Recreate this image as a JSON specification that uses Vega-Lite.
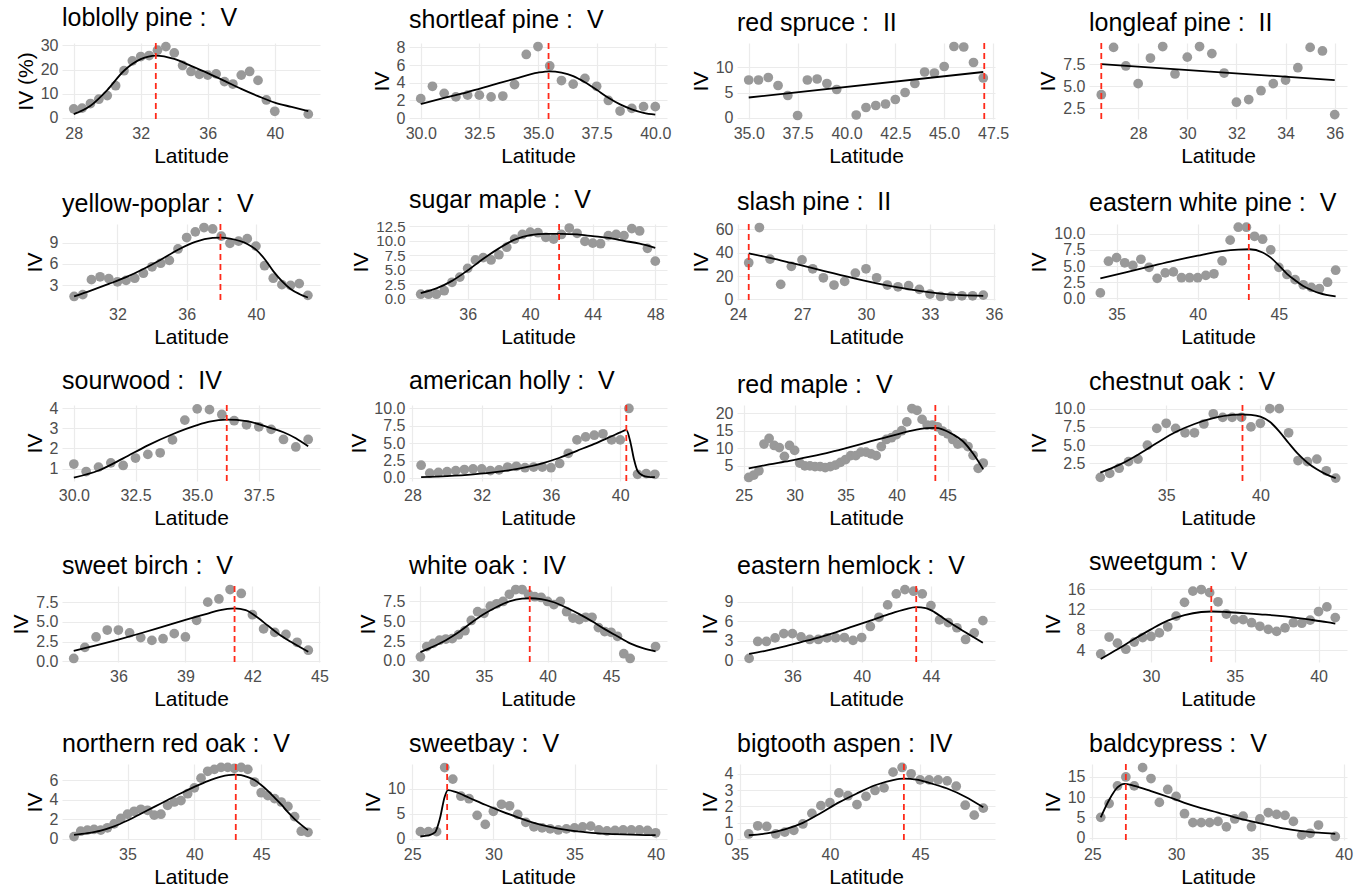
{
"$schema": "https://vega.github.io/schema/vega-lite/v6.json",
"background": "white",
"padding": {"left": 10, "top": 6, "right": 2, "bottom": 2},
"columns": 4,
"spacing": {"row": 22, "column": 19},
"datasets": {
"pts": [
{"species":"loblolly pine","lat":28,"iv":3.7},{"species":"loblolly pine","lat":28.5,"iv":4},{"species":"loblolly pine","lat":29,"iv":5.9},{"species":"loblolly pine","lat":29.5,"iv":7.7},{"species":"loblolly pine","lat":30,"iv":9.2},{"species":"loblolly pine","lat":30.5,"iv":13.3},{"species":"loblolly pine","lat":31,"iv":19.5},{"species":"loblolly pine","lat":31.5,"iv":23.6},{"species":"loblolly pine","lat":32,"iv":25.4},{"species":"loblolly pine","lat":32.5,"iv":25.8},{"species":"loblolly pine","lat":33,"iv":28},{"species":"loblolly pine","lat":33.5,"iv":29.5},{"species":"loblolly pine","lat":34,"iv":26.9},{"species":"loblolly pine","lat":34.5,"iv":21.7},{"species":"loblolly pine","lat":35,"iv":19.2},{"species":"loblolly pine","lat":35.5,"iv":18},{"species":"loblolly pine","lat":36,"iv":17.7},{"species":"loblolly pine","lat":36.5,"iv":18.2},{"species":"loblolly pine","lat":37,"iv":15},{"species":"loblolly pine","lat":37.5,"iv":14},{"species":"loblolly pine","lat":38,"iv":17.7},{"species":"loblolly pine","lat":38.5,"iv":19.2},{"species":"loblolly pine","lat":39,"iv":15.5},{"species":"loblolly pine","lat":39.5,"iv":7.4},{"species":"loblolly pine","lat":40,"iv":2.7},{"species":"loblolly pine","lat":42,"iv":1.5},
{"species":"shortleaf pine","lat":30,"iv":2.2},{"species":"shortleaf pine","lat":30.5,"iv":3.6},{"species":"shortleaf pine","lat":31,"iv":2.8},{"species":"shortleaf pine","lat":31.5,"iv":2.4},{"species":"shortleaf pine","lat":32,"iv":2.6},{"species":"shortleaf pine","lat":32.5,"iv":2.6},{"species":"shortleaf pine","lat":33,"iv":2.4},{"species":"shortleaf pine","lat":33.5,"iv":2.5},{"species":"shortleaf pine","lat":34,"iv":3.8},{"species":"shortleaf pine","lat":34.5,"iv":7.2},{"species":"shortleaf pine","lat":35,"iv":8.1},{"species":"shortleaf pine","lat":35.5,"iv":5.9},{"species":"shortleaf pine","lat":36,"iv":4.25},{"species":"shortleaf pine","lat":36.5,"iv":3.85},{"species":"shortleaf pine","lat":37,"iv":4.5},{"species":"shortleaf pine","lat":37.5,"iv":3.6},{"species":"shortleaf pine","lat":38,"iv":2.0},{"species":"shortleaf pine","lat":38.5,"iv":0.8},{"species":"shortleaf pine","lat":39,"iv":1.1},{"species":"shortleaf pine","lat":39.5,"iv":1.3},{"species":"shortleaf pine","lat":40,"iv":1.3},
{"species":"red spruce","lat":35,"iv":7.5},{"species":"red spruce","lat":35.5,"iv":7.5},{"species":"red spruce","lat":36,"iv":8},{"species":"red spruce","lat":36.5,"iv":6.4},{"species":"red spruce","lat":37,"iv":4.4},{"species":"red spruce","lat":37.5,"iv":0.4},{"species":"red spruce","lat":38,"iv":7.5},{"species":"red spruce","lat":38.5,"iv":7.7},{"species":"red spruce","lat":39,"iv":6.8},{"species":"red spruce","lat":39.5,"iv":5.6},{"species":"red spruce","lat":40.5,"iv":0.5},{"species":"red spruce","lat":41,"iv":2.0},{"species":"red spruce","lat":41.5,"iv":2.4},{"species":"red spruce","lat":42,"iv":2.7},{"species":"red spruce","lat":42.5,"iv":3.6},{"species":"red spruce","lat":43,"iv":5.0},{"species":"red spruce","lat":43.5,"iv":6.8},{"species":"red spruce","lat":44,"iv":9.1},{"species":"red spruce","lat":44.5,"iv":8.9},{"species":"red spruce","lat":45,"iv":10.2},{"species":"red spruce","lat":45.5,"iv":14.2},{"species":"red spruce","lat":46,"iv":14.1},{"species":"red spruce","lat":46.5,"iv":11},{"species":"red spruce","lat":47,"iv":7.9},
{"species":"longleaf pine","lat":26.5,"iv":4.05},{"species":"longleaf pine","lat":27,"iv":9.4},{"species":"longleaf pine","lat":27.5,"iv":7.3},{"species":"longleaf pine","lat":28,"iv":5.3},{"species":"longleaf pine","lat":28.5,"iv":8.2},{"species":"longleaf pine","lat":29,"iv":9.5},{"species":"longleaf pine","lat":29.5,"iv":6.4},{"species":"longleaf pine","lat":30,"iv":8.3},{"species":"longleaf pine","lat":30.5,"iv":9.5},{"species":"longleaf pine","lat":31,"iv":8.7},{"species":"longleaf pine","lat":31.5,"iv":6.5},{"species":"longleaf pine","lat":32,"iv":3.2},{"species":"longleaf pine","lat":32.5,"iv":3.5},{"species":"longleaf pine","lat":33,"iv":4.5},{"species":"longleaf pine","lat":33.5,"iv":5.3},{"species":"longleaf pine","lat":34,"iv":5.7},{"species":"longleaf pine","lat":34.5,"iv":7.1},{"species":"longleaf pine","lat":35,"iv":9.4},{"species":"longleaf pine","lat":35.5,"iv":9.0},{"species":"longleaf pine","lat":36,"iv":1.8},
{"species":"yellow-poplar","lat":29.5,"iv":1.45},{"species":"yellow-poplar","lat":30,"iv":1.7},{"species":"yellow-poplar","lat":30.5,"iv":3.8},{"species":"yellow-poplar","lat":31,"iv":4.2},{"species":"yellow-poplar","lat":31.5,"iv":3.95},{"species":"yellow-poplar","lat":32,"iv":3.5},{"species":"yellow-poplar","lat":32.5,"iv":3.7},{"species":"yellow-poplar","lat":33,"iv":4.0},{"species":"yellow-poplar","lat":33.5,"iv":4.7},{"species":"yellow-poplar","lat":34,"iv":5.6},{"species":"yellow-poplar","lat":34.5,"iv":6.1},{"species":"yellow-poplar","lat":35,"iv":6.5},{"species":"yellow-poplar","lat":35.5,"iv":8.1},{"species":"yellow-poplar","lat":36,"iv":9.7},{"species":"yellow-poplar","lat":36.5,"iv":10.5},{"species":"yellow-poplar","lat":37,"iv":11.1},{"species":"yellow-poplar","lat":37.5,"iv":10.9},{"species":"yellow-poplar","lat":38,"iv":9.9},{"species":"yellow-poplar","lat":38.5,"iv":8.9},{"species":"yellow-poplar","lat":39,"iv":9.2},{"species":"yellow-poplar","lat":39.5,"iv":9.55},{"species":"yellow-poplar","lat":40,"iv":8.5},{"species":"yellow-poplar","lat":40.5,"iv":5.75},{"species":"yellow-poplar","lat":41,"iv":4.0},{"species":"yellow-poplar","lat":41.5,"iv":3.1},{"species":"yellow-poplar","lat":42,"iv":3.0},{"species":"yellow-poplar","lat":42.5,"iv":3.25},{"species":"yellow-poplar","lat":43,"iv":1.6},
{"species":"sugar maple","lat":33,"iv":0.8},{"species":"sugar maple","lat":33.5,"iv":0.8},{"species":"sugar maple","lat":34,"iv":0.8},{"species":"sugar maple","lat":34.5,"iv":1.4},{"species":"sugar maple","lat":35,"iv":2.85},{"species":"sugar maple","lat":35.5,"iv":3.75},{"species":"sugar maple","lat":36,"iv":5.25},{"species":"sugar maple","lat":36.5,"iv":6.7},{"species":"sugar maple","lat":37,"iv":7.1},{"species":"sugar maple","lat":37.5,"iv":6.7},{"species":"sugar maple","lat":38,"iv":7.6},{"species":"sugar maple","lat":38.5,"iv":8.9},{"species":"sugar maple","lat":39,"iv":10.3},{"species":"sugar maple","lat":39.5,"iv":11.1},{"species":"sugar maple","lat":40,"iv":11.5},{"species":"sugar maple","lat":40.5,"iv":11.4},{"species":"sugar maple","lat":41,"iv":10.6},{"species":"sugar maple","lat":41.5,"iv":10.3},{"species":"sugar maple","lat":42,"iv":11.1},{"species":"sugar maple","lat":42.5,"iv":12.2},{"species":"sugar maple","lat":43,"iv":11.3},{"species":"sugar maple","lat":43.5,"iv":9.9},{"species":"sugar maple","lat":44,"iv":9.6},{"species":"sugar maple","lat":44.5,"iv":9.5},{"species":"sugar maple","lat":45,"iv":10.9},{"species":"sugar maple","lat":45.5,"iv":11.1},{"species":"sugar maple","lat":46,"iv":10.9},{"species":"sugar maple","lat":46.5,"iv":12.1},{"species":"sugar maple","lat":47,"iv":11.7},{"species":"sugar maple","lat":47.5,"iv":8.7},{"species":"sugar maple","lat":48,"iv":6.5},
{"species":"slash pine","lat":24.5,"iv":31.4},{"species":"slash pine","lat":25,"iv":61.5},{"species":"slash pine","lat":25.5,"iv":34.5},{"species":"slash pine","lat":26,"iv":12.9},{"species":"slash pine","lat":26.5,"iv":28.3},{"species":"slash pine","lat":27,"iv":33.8},{"species":"slash pine","lat":27.5,"iv":26.2},{"species":"slash pine","lat":28,"iv":18.5},{"species":"slash pine","lat":28.5,"iv":12.3},{"species":"slash pine","lat":29,"iv":15.4},{"species":"slash pine","lat":29.5,"iv":22.5},{"species":"slash pine","lat":30,"iv":26.2},{"species":"slash pine","lat":30.5,"iv":18.5},{"species":"slash pine","lat":31,"iv":12.3},{"species":"slash pine","lat":31.5,"iv":10.8},{"species":"slash pine","lat":32,"iv":11.7},{"species":"slash pine","lat":32.5,"iv":8.6},{"species":"slash pine","lat":33,"iv":4.6},{"species":"slash pine","lat":33.5,"iv":2.5},{"species":"slash pine","lat":34,"iv":2.5},{"species":"slash pine","lat":34.5,"iv":3.1},{"species":"slash pine","lat":35,"iv":3.1},{"species":"slash pine","lat":35.5,"iv":3.7},
{"species":"eastern white pine","lat":34,"iv":0.85},{"species":"eastern white pine","lat":34.5,"iv":5.75},{"species":"eastern white pine","lat":35,"iv":6.3},{"species":"eastern white pine","lat":35.5,"iv":5.5},{"species":"eastern white pine","lat":36,"iv":5.1},{"species":"eastern white pine","lat":36.5,"iv":6.05},{"species":"eastern white pine","lat":37,"iv":4.8},{"species":"eastern white pine","lat":37.5,"iv":3.1},{"species":"eastern white pine","lat":38,"iv":3.95},{"species":"eastern white pine","lat":38.5,"iv":4.1},{"species":"eastern white pine","lat":39,"iv":3.2},{"species":"eastern white pine","lat":39.5,"iv":3.2},{"species":"eastern white pine","lat":40,"iv":3.2},{"species":"eastern white pine","lat":40.5,"iv":3.55},{"species":"eastern white pine","lat":41,"iv":3.8},{"species":"eastern white pine","lat":41.5,"iv":5.8},{"species":"eastern white pine","lat":42,"iv":9.0},{"species":"eastern white pine","lat":42.5,"iv":11.0},{"species":"eastern white pine","lat":43,"iv":11.0},{"species":"eastern white pine","lat":43.5,"iv":9.6},{"species":"eastern white pine","lat":44,"iv":9.15},{"species":"eastern white pine","lat":44.5,"iv":7.5},{"species":"eastern white pine","lat":45,"iv":4.8},{"species":"eastern white pine","lat":45.5,"iv":3.7},{"species":"eastern white pine","lat":46,"iv":2.9},{"species":"eastern white pine","lat":46.5,"iv":2.1},{"species":"eastern white pine","lat":47,"iv":1.7},{"species":"eastern white pine","lat":47.5,"iv":1.5},{"species":"eastern white pine","lat":48,"iv":2.5},{"species":"eastern white pine","lat":48.5,"iv":4.35},
{"species":"sourwood","lat":30,"iv":1.22},{"species":"sourwood","lat":30.5,"iv":0.85},{"species":"sourwood","lat":31,"iv":1.07},{"species":"sourwood","lat":31.5,"iv":1.28},{"species":"sourwood","lat":32,"iv":1.15},{"species":"sourwood","lat":32.5,"iv":1.52},{"species":"sourwood","lat":33,"iv":1.7},{"species":"sourwood","lat":33.5,"iv":1.78},{"species":"sourwood","lat":34,"iv":2.42},{"species":"sourwood","lat":34.5,"iv":3.4},{"species":"sourwood","lat":35,"iv":3.96},{"species":"sourwood","lat":35.5,"iv":3.92},{"species":"sourwood","lat":36,"iv":3.68},{"species":"sourwood","lat":36.5,"iv":3.37},{"species":"sourwood","lat":37,"iv":3.17},{"species":"sourwood","lat":37.5,"iv":3.07},{"species":"sourwood","lat":38,"iv":2.94},{"species":"sourwood","lat":38.5,"iv":2.44},{"species":"sourwood","lat":39,"iv":2.07},{"species":"sourwood","lat":39.5,"iv":2.44},
{"species":"american holly","lat":28.5,"iv":1.82},{"species":"american holly","lat":29,"iv":0.68},{"species":"american holly","lat":29.5,"iv":0.78},{"species":"american holly","lat":30,"iv":0.89},{"species":"american holly","lat":30.5,"iv":1.04},{"species":"american holly","lat":31,"iv":1.2},{"species":"american holly","lat":31.5,"iv":1.3},{"species":"american holly","lat":32,"iv":1.3},{"species":"american holly","lat":32.5,"iv":1.04},{"species":"american holly","lat":33,"iv":1.15},{"species":"american holly","lat":33.5,"iv":1.56},{"species":"american holly","lat":34,"iv":1.67},{"species":"american holly","lat":34.5,"iv":1.46},{"species":"american holly","lat":35,"iv":1.56},{"species":"american holly","lat":35.5,"iv":1.56},{"species":"american holly","lat":36,"iv":1.46},{"species":"american holly","lat":36.5,"iv":2.08},{"species":"american holly","lat":37,"iv":3.54},{"species":"american holly","lat":37.5,"iv":5.47},{"species":"american holly","lat":38,"iv":5.9},{"species":"american holly","lat":38.5,"iv":6.15},{"species":"american holly","lat":39,"iv":6.35},{"species":"american holly","lat":39.5,"iv":5.47},{"species":"american holly","lat":40,"iv":5.47},{"species":"american holly","lat":40.5,"iv":10.0},{"species":"american holly","lat":41,"iv":0.52},{"species":"american holly","lat":41.5,"iv":0.62},{"species":"american holly","lat":42,"iv":0.52},
{"species":"red maple","lat":25.5,"iv":1.7},{"species":"red maple","lat":26,"iv":2.4},{"species":"red maple","lat":26.5,"iv":3.6},{"species":"red maple","lat":27,"iv":11.2},{"species":"red maple","lat":27.5,"iv":12.8},{"species":"red maple","lat":28,"iv":10.8},{"species":"red maple","lat":28.5,"iv":10.2},{"species":"red maple","lat":29,"iv":7.7},{"species":"red maple","lat":29.5,"iv":10.8},{"species":"red maple","lat":30,"iv":9.4},{"species":"red maple","lat":30.5,"iv":5.8},{"species":"red maple","lat":31,"iv":5.0},{"species":"red maple","lat":31.5,"iv":5.0},{"species":"red maple","lat":32,"iv":4.8},{"species":"red maple","lat":32.5,"iv":4.8},{"species":"red maple","lat":33,"iv":4.5},{"species":"red maple","lat":33.5,"iv":4.8},{"species":"red maple","lat":34,"iv":5.2},{"species":"red maple","lat":34.5,"iv":6.0},{"species":"red maple","lat":35,"iv":6.8},{"species":"red maple","lat":35.5,"iv":7.9},{"species":"red maple","lat":36,"iv":7.9},{"species":"red maple","lat":36.5,"iv":8.9},{"species":"red maple","lat":37,"iv":8.9},{"species":"red maple","lat":37.5,"iv":8.4},{"species":"red maple","lat":38,"iv":7.9},{"species":"red maple","lat":38.5,"iv":10.5},{"species":"red maple","lat":39,"iv":12.5},{"species":"red maple","lat":39.5,"iv":13.0},{"species":"red maple","lat":40,"iv":13.9},{"species":"red maple","lat":40.5,"iv":15.0},{"species":"red maple","lat":41,"iv":17.5},{"species":"red maple","lat":41.5,"iv":21.3},{"species":"red maple","lat":42,"iv":20.8},{"species":"red maple","lat":42.5,"iv":18.2},{"species":"red maple","lat":43,"iv":16.6},{"species":"red maple","lat":43.5,"iv":16.6},{"species":"red maple","lat":44,"iv":16.1},{"species":"red maple","lat":44.5,"iv":14.9},{"species":"red maple","lat":45,"iv":14.1},{"species":"red maple","lat":45.5,"iv":12.5},{"species":"red maple","lat":46,"iv":11.2},{"species":"red maple","lat":46.5,"iv":11.5},{"species":"red maple","lat":47,"iv":10.5},{"species":"red maple","lat":47.5,"iv":8.0},{"species":"red maple","lat":48,"iv":4.3},{"species":"red maple","lat":48.5,"iv":5.8},
{"species":"chestnut oak","lat":31.5,"iv":0.6},{"species":"chestnut oak","lat":32,"iv":1.14},{"species":"chestnut oak","lat":32.5,"iv":1.85},{"species":"chestnut oak","lat":33,"iv":2.75},{"species":"chestnut oak","lat":33.5,"iv":3.1},{"species":"chestnut oak","lat":34,"iv":5.0},{"species":"chestnut oak","lat":34.5,"iv":7.3},{"species":"chestnut oak","lat":35,"iv":8.0},{"species":"chestnut oak","lat":35.5,"iv":7.3},{"species":"chestnut oak","lat":36,"iv":6.7},{"species":"chestnut oak","lat":36.5,"iv":6.7},{"species":"chestnut oak","lat":37,"iv":7.9},{"species":"chestnut oak","lat":37.5,"iv":9.3},{"species":"chestnut oak","lat":38,"iv":8.8},{"species":"chestnut oak","lat":38.5,"iv":8.8},{"species":"chestnut oak","lat":39,"iv":8.8},{"species":"chestnut oak","lat":39.5,"iv":7.5},{"species":"chestnut oak","lat":40,"iv":8.0},{"species":"chestnut oak","lat":40.5,"iv":10.0},{"species":"chestnut oak","lat":41,"iv":10.0},{"species":"chestnut oak","lat":41.5,"iv":6.7},{"species":"chestnut oak","lat":42,"iv":2.9},{"species":"chestnut oak","lat":42.5,"iv":2.75},{"species":"chestnut oak","lat":43,"iv":3.1},{"species":"chestnut oak","lat":43.5,"iv":1.5},{"species":"chestnut oak","lat":44,"iv":0.5},
{"species":"sweet birch","lat":34,"iv":0.35},{"species":"sweet birch","lat":34.5,"iv":1.76},{"species":"sweet birch","lat":35,"iv":3.08},{"species":"sweet birch","lat":35.5,"iv":3.96},{"species":"sweet birch","lat":36,"iv":3.96},{"species":"sweet birch","lat":36.5,"iv":3.6},{"species":"sweet birch","lat":37,"iv":3.0},{"species":"sweet birch","lat":37.5,"iv":2.64},{"species":"sweet birch","lat":38,"iv":2.86},{"species":"sweet birch","lat":38.5,"iv":3.5},{"species":"sweet birch","lat":39,"iv":3.08},{"species":"sweet birch","lat":39.5,"iv":5.2},{"species":"sweet birch","lat":40,"iv":7.5},{"species":"sweet birch","lat":40.5,"iv":7.9},{"species":"sweet birch","lat":41,"iv":9.1},{"species":"sweet birch","lat":41.5,"iv":8.6},{"species":"sweet birch","lat":42,"iv":5.9},{"species":"sweet birch","lat":42.5,"iv":4.1},{"species":"sweet birch","lat":43,"iv":3.66},{"species":"sweet birch","lat":43.5,"iv":3.4},{"species":"sweet birch","lat":44,"iv":2.4},{"species":"sweet birch","lat":44.5,"iv":1.4},
{"species":"white oak","lat":30,"iv":0.5},{"species":"white oak","lat":30.5,"iv":1.8},{"species":"white oak","lat":31,"iv":2.2},{"species":"white oak","lat":31.5,"iv":2.6},{"species":"white oak","lat":32,"iv":2.75},{"species":"white oak","lat":32.5,"iv":2.8},{"species":"white oak","lat":33,"iv":3.3},{"species":"white oak","lat":33.5,"iv":3.8},{"species":"white oak","lat":34,"iv":5.1},{"species":"white oak","lat":34.5,"iv":6.2},{"species":"white oak","lat":35,"iv":6.0},{"species":"white oak","lat":35.5,"iv":6.9},{"species":"white oak","lat":36,"iv":7.2},{"species":"white oak","lat":36.5,"iv":7.5},{"species":"white oak","lat":37,"iv":8.4},{"species":"white oak","lat":37.5,"iv":9.0},{"species":"white oak","lat":38,"iv":9.0},{"species":"white oak","lat":38.5,"iv":8.4},{"species":"white oak","lat":39,"iv":8.1},{"species":"white oak","lat":39.5,"iv":8.0},{"species":"white oak","lat":40,"iv":7.5},{"species":"white oak","lat":40.5,"iv":7.1},{"species":"white oak","lat":41,"iv":7.5},{"species":"white oak","lat":41.5,"iv":6.2},{"species":"white oak","lat":42,"iv":5.4},{"species":"white oak","lat":42.5,"iv":5.2},{"species":"white oak","lat":43,"iv":5.5},{"species":"white oak","lat":43.5,"iv":5.5},{"species":"white oak","lat":44,"iv":4.2},{"species":"white oak","lat":44.5,"iv":3.7},{"species":"white oak","lat":45,"iv":3.6},{"species":"white oak","lat":45.5,"iv":3.1},{"species":"white oak","lat":46,"iv":0.9},{"species":"white oak","lat":46.5,"iv":0.3},{"species":"white oak","lat":48.5,"iv":1.8},
{"species":"eastern hemlock","lat":33.5,"iv":0.3},{"species":"eastern hemlock","lat":34,"iv":2.9},{"species":"eastern hemlock","lat":34.5,"iv":2.9},{"species":"eastern hemlock","lat":35,"iv":3.44},{"species":"eastern hemlock","lat":35.5,"iv":4.1},{"species":"eastern hemlock","lat":36,"iv":4.1},{"species":"eastern hemlock","lat":36.5,"iv":3.6},{"species":"eastern hemlock","lat":37,"iv":3.2},{"species":"eastern hemlock","lat":37.5,"iv":3.2},{"species":"eastern hemlock","lat":38,"iv":3.44},{"species":"eastern hemlock","lat":38.5,"iv":3.44},{"species":"eastern hemlock","lat":39,"iv":3.5},{"species":"eastern hemlock","lat":39.5,"iv":3.07},{"species":"eastern hemlock","lat":40,"iv":3.5},{"species":"eastern hemlock","lat":40.5,"iv":5.2},{"species":"eastern hemlock","lat":41,"iv":6.6},{"species":"eastern hemlock","lat":41.5,"iv":8.5},{"species":"eastern hemlock","lat":42,"iv":10.2},{"species":"eastern hemlock","lat":42.5,"iv":10.85},{"species":"eastern hemlock","lat":43,"iv":10.6},{"species":"eastern hemlock","lat":43.5,"iv":10.2},{"species":"eastern hemlock","lat":44,"iv":8.4},{"species":"eastern hemlock","lat":44.5,"iv":6.2},{"species":"eastern hemlock","lat":45,"iv":5.8},{"species":"eastern hemlock","lat":45.5,"iv":5.0},{"species":"eastern hemlock","lat":46,"iv":3.2},{"species":"eastern hemlock","lat":46.5,"iv":4.2},{"species":"eastern hemlock","lat":47,"iv":6.1},
{"species":"sweetgum","lat":27,"iv":3.3},{"species":"sweetgum","lat":27.5,"iv":6.6},{"species":"sweetgum","lat":28,"iv":5.4},{"species":"sweetgum","lat":28.5,"iv":4.2},{"species":"sweetgum","lat":29,"iv":5.6},{"species":"sweetgum","lat":29.5,"iv":6.5},{"species":"sweetgum","lat":30,"iv":6.7},{"species":"sweetgum","lat":30.5,"iv":7.4},{"species":"sweetgum","lat":31,"iv":8.6},{"species":"sweetgum","lat":31.5,"iv":10.7},{"species":"sweetgum","lat":32,"iv":13.4},{"species":"sweetgum","lat":32.5,"iv":15.6},{"species":"sweetgum","lat":33,"iv":15.9},{"species":"sweetgum","lat":33.5,"iv":15.3},{"species":"sweetgum","lat":34,"iv":13.5},{"species":"sweetgum","lat":34.5,"iv":11.1},{"species":"sweetgum","lat":35,"iv":10.0},{"species":"sweetgum","lat":35.5,"iv":10.0},{"species":"sweetgum","lat":36,"iv":9.4},{"species":"sweetgum","lat":36.5,"iv":8.7},{"species":"sweetgum","lat":37,"iv":8.1},{"species":"sweetgum","lat":37.5,"iv":7.7},{"species":"sweetgum","lat":38,"iv":8.4},{"species":"sweetgum","lat":38.5,"iv":9.4},{"species":"sweetgum","lat":39,"iv":9.3},{"species":"sweetgum","lat":39.5,"iv":9.9},{"species":"sweetgum","lat":40,"iv":11.6},{"species":"sweetgum","lat":40.5,"iv":12.5},{"species":"sweetgum","lat":41,"iv":10.4},
{"species":"northern red oak","lat":31,"iv":0.2},{"species":"northern red oak","lat":31.5,"iv":0.75},{"species":"northern red oak","lat":32,"iv":0.86},{"species":"northern red oak","lat":32.5,"iv":0.94},{"species":"northern red oak","lat":33,"iv":0.86},{"species":"northern red oak","lat":33.5,"iv":1.1},{"species":"northern red oak","lat":34,"iv":1.5},{"species":"northern red oak","lat":34.5,"iv":2.06},{"species":"northern red oak","lat":35,"iv":2.5},{"species":"northern red oak","lat":35.5,"iv":2.8},{"species":"northern red oak","lat":36,"iv":3.0},{"species":"northern red oak","lat":36.5,"iv":2.9},{"species":"northern red oak","lat":37,"iv":2.4},{"species":"northern red oak","lat":37.5,"iv":2.5},{"species":"northern red oak","lat":38,"iv":3.4},{"species":"northern red oak","lat":38.5,"iv":3.75},{"species":"northern red oak","lat":39,"iv":3.9},{"species":"northern red oak","lat":39.5,"iv":4.6},{"species":"northern red oak","lat":40,"iv":5.2},{"species":"northern red oak","lat":40.5,"iv":6.2},{"species":"northern red oak","lat":41,"iv":6.9},{"species":"northern red oak","lat":41.5,"iv":7.1},{"species":"northern red oak","lat":42,"iv":7.3},{"species":"northern red oak","lat":42.5,"iv":7.3},{"species":"northern red oak","lat":43,"iv":7.2},{"species":"northern red oak","lat":43.5,"iv":7.3},{"species":"northern red oak","lat":44,"iv":7.1},{"species":"northern red oak","lat":44.5,"iv":5.8},{"species":"northern red oak","lat":45,"iv":4.7},{"species":"northern red oak","lat":45.5,"iv":4.4},{"species":"northern red oak","lat":46,"iv":4.1},{"species":"northern red oak","lat":46.5,"iv":3.75},{"species":"northern red oak","lat":47,"iv":3.3},{"species":"northern red oak","lat":47.5,"iv":2.25},{"species":"northern red oak","lat":48,"iv":0.75},{"species":"northern red oak","lat":48.5,"iv":0.64},
{"species":"sweetbay","lat":25.5,"iv":1.46},{"species":"sweetbay","lat":26,"iv":1.46},{"species":"sweetbay","lat":26.5,"iv":1.46},{"species":"sweetbay","lat":27,"iv":14.2},{"species":"sweetbay","lat":27.5,"iv":11.9},{"species":"sweetbay","lat":28,"iv":8.5},{"species":"sweetbay","lat":28.5,"iv":8.0},{"species":"sweetbay","lat":29,"iv":4.7},{"species":"sweetbay","lat":29.5,"iv":2.9},{"species":"sweetbay","lat":30,"iv":5.5},{"species":"sweetbay","lat":30.5,"iv":6.9},{"species":"sweetbay","lat":31,"iv":6.6},{"species":"sweetbay","lat":31.5,"iv":4.9},{"species":"sweetbay","lat":32,"iv":3.3},{"species":"sweetbay","lat":32.5,"iv":2.4},{"species":"sweetbay","lat":33,"iv":2.2},{"species":"sweetbay","lat":33.5,"iv":2.0},{"species":"sweetbay","lat":34,"iv":1.8},{"species":"sweetbay","lat":34.5,"iv":2.0},{"species":"sweetbay","lat":35,"iv":2.2},{"species":"sweetbay","lat":35.5,"iv":2.4},{"species":"sweetbay","lat":36,"iv":2.55},{"species":"sweetbay","lat":36.5,"iv":1.8},{"species":"sweetbay","lat":37,"iv":1.6},{"species":"sweetbay","lat":37.5,"iv":1.7},{"species":"sweetbay","lat":38,"iv":1.8},{"species":"sweetbay","lat":38.5,"iv":1.8},{"species":"sweetbay","lat":39,"iv":1.8},{"species":"sweetbay","lat":39.5,"iv":1.7},{"species":"sweetbay","lat":40,"iv":1.24},
{"species":"bigtooth aspen","lat":35.5,"iv":0.32},{"species":"bigtooth aspen","lat":36,"iv":0.82},{"species":"bigtooth aspen","lat":36.5,"iv":0.78},{"species":"bigtooth aspen","lat":37,"iv":0.32},{"species":"bigtooth aspen","lat":37.5,"iv":0.43},{"species":"bigtooth aspen","lat":38,"iv":0.54},{"species":"bigtooth aspen","lat":38.5,"iv":0.93},{"species":"bigtooth aspen","lat":39,"iv":1.58},{"species":"bigtooth aspen","lat":39.5,"iv":2.05},{"species":"bigtooth aspen","lat":40,"iv":2.23},{"species":"bigtooth aspen","lat":40.5,"iv":2.83},{"species":"bigtooth aspen","lat":41,"iv":2.66},{"species":"bigtooth aspen","lat":41.5,"iv":2.12},{"species":"bigtooth aspen","lat":42,"iv":2.62},{"species":"bigtooth aspen","lat":42.5,"iv":2.98},{"species":"bigtooth aspen","lat":43,"iv":3.14},{"species":"bigtooth aspen","lat":43.5,"iv":4.1},{"species":"bigtooth aspen","lat":44,"iv":4.39},{"species":"bigtooth aspen","lat":44.5,"iv":4.0},{"species":"bigtooth aspen","lat":45,"iv":3.63},{"species":"bigtooth aspen","lat":45.5,"iv":3.63},{"species":"bigtooth aspen","lat":46,"iv":3.63},{"species":"bigtooth aspen","lat":46.5,"iv":3.57},{"species":"bigtooth aspen","lat":47,"iv":3.24},{"species":"bigtooth aspen","lat":47.5,"iv":2.08},{"species":"bigtooth aspen","lat":48,"iv":1.47},{"species":"bigtooth aspen","lat":48.5,"iv":1.9},
{"species":"baldcypress","lat":25.5,"iv":5.0},{"species":"baldcypress","lat":26,"iv":8.4},{"species":"baldcypress","lat":26.5,"iv":12.8},{"species":"baldcypress","lat":27,"iv":15.0},{"species":"baldcypress","lat":27.5,"iv":12.8},{"species":"baldcypress","lat":28,"iv":17.3},{"species":"baldcypress","lat":28.5,"iv":14.6},{"species":"baldcypress","lat":29,"iv":8.7},{"species":"baldcypress","lat":29.5,"iv":11.9},{"species":"baldcypress","lat":30,"iv":10.2},{"species":"baldcypress","lat":30.5,"iv":5.9},{"species":"baldcypress","lat":31,"iv":3.7},{"species":"baldcypress","lat":31.5,"iv":3.7},{"species":"baldcypress","lat":32,"iv":3.7},{"species":"baldcypress","lat":32.5,"iv":4.0},{"species":"baldcypress","lat":33,"iv":2.65},{"species":"baldcypress","lat":33.5,"iv":4.6},{"species":"baldcypress","lat":34,"iv":5.3},{"species":"baldcypress","lat":34.5,"iv":2.65},{"species":"baldcypress","lat":35,"iv":4.6},{"species":"baldcypress","lat":35.5,"iv":6.2},{"species":"baldcypress","lat":36,"iv":5.75},{"species":"baldcypress","lat":36.5,"iv":5.5},{"species":"baldcypress","lat":37,"iv":4.0},{"species":"baldcypress","lat":37.5,"iv":0.6},{"species":"baldcypress","lat":38,"iv":1.06},{"species":"baldcypress","lat":38.5,"iv":3.1},{"species":"baldcypress","lat":39.5,"iv":0.27}
],
"fit": [
{"species":"loblolly pine","lat":28,"iv":1.5},{"species":"loblolly pine","lat":29,"iv":5},{"species":"loblolly pine","lat":30,"iv":11.5},{"species":"loblolly pine","lat":31,"iv":19.5},{"species":"loblolly pine","lat":32,"iv":24.3},{"species":"loblolly pine","lat":32.9,"iv":25.8},{"species":"loblolly pine","lat":34,"iv":24.4},{"species":"loblolly pine","lat":35,"iv":21.5},{"species":"loblolly pine","lat":36,"iv":18.5},{"species":"loblolly pine","lat":37,"iv":15.3},{"species":"loblolly pine","lat":38,"iv":12},{"species":"loblolly pine","lat":39,"iv":9},{"species":"loblolly pine","lat":40,"iv":6.3},{"species":"loblolly pine","lat":41,"iv":4.5},{"species":"loblolly pine","lat":42,"iv":2.8},
{"species":"shortleaf pine","lat":30,"iv":1.6},{"species":"shortleaf pine","lat":31,"iv":2.3},{"species":"shortleaf pine","lat":32,"iv":2.95},{"species":"shortleaf pine","lat":33,"iv":3.7},{"species":"shortleaf pine","lat":34,"iv":4.45},{"species":"shortleaf pine","lat":35,"iv":5.15},{"species":"shortleaf pine","lat":35.5,"iv":5.3},{"species":"shortleaf pine","lat":36,"iv":5.15},{"species":"shortleaf pine","lat":36.5,"iv":4.75},{"species":"shortleaf pine","lat":37,"iv":4.05},{"species":"shortleaf pine","lat":37.5,"iv":3.2},{"species":"shortleaf pine","lat":38,"iv":2.3},{"species":"shortleaf pine","lat":38.5,"iv":1.55},{"species":"shortleaf pine","lat":39,"iv":1.0},{"species":"shortleaf pine","lat":39.5,"iv":0.6},{"species":"shortleaf pine","lat":40,"iv":0.4},
{"species":"red spruce","lat":35,"iv":4.0},{"species":"red spruce","lat":47,"iv":9.1},
{"species":"longleaf pine","lat":26.5,"iv":7.5},{"species":"longleaf pine","lat":36,"iv":5.7},
{"species":"yellow-poplar","lat":29.5,"iv":1.45},{"species":"yellow-poplar","lat":30.5,"iv":2.3},{"species":"yellow-poplar","lat":31.5,"iv":3.2},{"species":"yellow-poplar","lat":32.5,"iv":4.15},{"species":"yellow-poplar","lat":33.5,"iv":5.3},{"species":"yellow-poplar","lat":34.5,"iv":6.6},{"species":"yellow-poplar","lat":35.5,"iv":8.0},{"species":"yellow-poplar","lat":36.5,"iv":9.1},{"species":"yellow-poplar","lat":37.5,"iv":9.65},{"species":"yellow-poplar","lat":38,"iv":9.7},{"species":"yellow-poplar","lat":38.5,"iv":9.55},{"species":"yellow-poplar","lat":39.5,"iv":8.8},{"species":"yellow-poplar","lat":40,"iv":8.0},{"species":"yellow-poplar","lat":40.5,"iv":6.7},{"species":"yellow-poplar","lat":41,"iv":5.0},{"species":"yellow-poplar","lat":41.5,"iv":3.6},{"species":"yellow-poplar","lat":42,"iv":2.5},{"species":"yellow-poplar","lat":42.5,"iv":1.8},{"species":"yellow-poplar","lat":43,"iv":1.3},
{"species":"sugar maple","lat":33,"iv":1.0},{"species":"sugar maple","lat":34,"iv":1.8},{"species":"sugar maple","lat":35,"iv":3.1},{"species":"sugar maple","lat":36,"iv":4.9},{"species":"sugar maple","lat":37,"iv":6.9},{"species":"sugar maple","lat":38,"iv":8.7},{"species":"sugar maple","lat":39,"iv":10.2},{"species":"sugar maple","lat":40,"iv":11.0},{"species":"sugar maple","lat":41,"iv":11.2},{"species":"sugar maple","lat":42,"iv":11.2},{"species":"sugar maple","lat":43,"iv":11.1},{"species":"sugar maple","lat":44,"iv":10.8},{"species":"sugar maple","lat":45,"iv":10.5},{"species":"sugar maple","lat":46,"iv":10.0},{"species":"sugar maple","lat":47,"iv":9.5},{"species":"sugar maple","lat":48,"iv":8.8},
{"species":"slash pine","lat":24.5,"iv":39.4},{"species":"slash pine","lat":25.5,"iv":35.5},{"species":"slash pine","lat":26.5,"iv":31.2},{"species":"slash pine","lat":27.5,"iv":26.8},{"species":"slash pine","lat":28.5,"iv":22.2},{"species":"slash pine","lat":29.5,"iv":17.8},{"species":"slash pine","lat":30.5,"iv":13.8},{"species":"slash pine","lat":31.5,"iv":10.3},{"species":"slash pine","lat":32.5,"iv":7.3},{"species":"slash pine","lat":33.5,"iv":5.0},{"species":"slash pine","lat":34.5,"iv":3.6},{"species":"slash pine","lat":35.5,"iv":3.1},
{"species":"eastern white pine","lat":34,"iv":3.1},{"species":"eastern white pine","lat":35.5,"iv":4.0},{"species":"eastern white pine","lat":37,"iv":4.9},{"species":"eastern white pine","lat":38.5,"iv":5.8},{"species":"eastern white pine","lat":40,"iv":6.6},{"species":"eastern white pine","lat":41.5,"iv":7.3},{"species":"eastern white pine","lat":42.5,"iv":7.55},{"species":"eastern white pine","lat":43.2,"iv":7.6},{"species":"eastern white pine","lat":44,"iv":7.1},{"species":"eastern white pine","lat":44.5,"iv":6.3},{"species":"eastern white pine","lat":45,"iv":5.1},{"species":"eastern white pine","lat":45.5,"iv":3.8},{"species":"eastern white pine","lat":46,"iv":2.8},{"species":"eastern white pine","lat":46.5,"iv":1.9},{"species":"eastern white pine","lat":47,"iv":1.3},{"species":"eastern white pine","lat":47.5,"iv":0.8},{"species":"eastern white pine","lat":48.5,"iv":0.3},
{"species":"sourwood","lat":30,"iv":0.55},{"species":"sourwood","lat":31,"iv":0.9},{"species":"sourwood","lat":32,"iv":1.5},{"species":"sourwood","lat":33,"iv":2.15},{"species":"sourwood","lat":34,"iv":2.7},{"species":"sourwood","lat":35,"iv":3.15},{"species":"sourwood","lat":35.5,"iv":3.32},{"species":"sourwood","lat":36.2,"iv":3.42},{"species":"sourwood","lat":37,"iv":3.35},{"species":"sourwood","lat":38,"iv":3.0},{"species":"sourwood","lat":38.5,"iv":2.8},{"species":"sourwood","lat":39,"iv":2.5},{"species":"sourwood","lat":39.5,"iv":2.1},
{"species":"american holly","lat":28.5,"iv":0.1},{"species":"american holly","lat":30,"iv":0.25},{"species":"american holly","lat":31.5,"iv":0.5},{"species":"american holly","lat":33,"iv":0.9},{"species":"american holly","lat":34.5,"iv":1.5},{"species":"american holly","lat":35.5,"iv":2.1},{"species":"american holly","lat":36.5,"iv":2.9},{"species":"american holly","lat":37.5,"iv":3.9},{"species":"american holly","lat":38.5,"iv":4.9},{"species":"american holly","lat":39.5,"iv":6.0},{"species":"american holly","lat":40,"iv":6.55},{"species":"american holly","lat":40.35,"iv":6.9},{"species":"american holly","lat":40.6,"iv":5.0},{"species":"american holly","lat":40.8,"iv":2.6},{"species":"american holly","lat":41,"iv":1.0},{"species":"american holly","lat":41.3,"iv":0.35},{"species":"american holly","lat":41.6,"iv":0.15},{"species":"american holly","lat":42,"iv":0.1},
{"species":"red maple","lat":25.5,"iv":4.3},{"species":"red maple","lat":27.5,"iv":5.4},{"species":"red maple","lat":29.5,"iv":6.4},{"species":"red maple","lat":31.5,"iv":7.6},{"species":"red maple","lat":33.5,"iv":8.9},{"species":"red maple","lat":35.5,"iv":10.4},{"species":"red maple","lat":37.5,"iv":12.0},{"species":"red maple","lat":39.5,"iv":13.5},{"species":"red maple","lat":41.5,"iv":15.0},{"species":"red maple","lat":43,"iv":15.7},{"species":"red maple","lat":43.8,"iv":15.8},{"species":"red maple","lat":44.5,"iv":15.4},{"species":"red maple","lat":45.5,"iv":14.0},{"species":"red maple","lat":46.5,"iv":12.0},{"species":"red maple","lat":47.5,"iv":8.5},{"species":"red maple","lat":48.5,"iv":4.0},
{"species":"chestnut oak","lat":31.5,"iv":1.25},{"species":"chestnut oak","lat":32.5,"iv":2.3},{"species":"chestnut oak","lat":33.5,"iv":3.7},{"species":"chestnut oak","lat":34.5,"iv":5.3},{"species":"chestnut oak","lat":35.5,"iv":6.8},{"species":"chestnut oak","lat":36.5,"iv":7.9},{"species":"chestnut oak","lat":37.5,"iv":8.7},{"species":"chestnut oak","lat":38.5,"iv":9.15},{"species":"chestnut oak","lat":39,"iv":9.2},{"species":"chestnut oak","lat":39.5,"iv":9.15},{"species":"chestnut oak","lat":40,"iv":8.9},{"species":"chestnut oak","lat":40.5,"iv":8.2},{"species":"chestnut oak","lat":41,"iv":6.9},{"species":"chestnut oak","lat":41.5,"iv":5.3},{"species":"chestnut oak","lat":42,"iv":3.8},{"species":"chestnut oak","lat":42.5,"iv":2.6},{"species":"chestnut oak","lat":43,"iv":1.7},{"species":"chestnut oak","lat":43.5,"iv":1.0},{"species":"chestnut oak","lat":44,"iv":0.5},
{"species":"sweet birch","lat":34,"iv":1.3},{"species":"sweet birch","lat":35,"iv":2.0},{"species":"sweet birch","lat":36,"iv":2.75},{"species":"sweet birch","lat":37,"iv":3.55},{"species":"sweet birch","lat":38,"iv":4.4},{"species":"sweet birch","lat":39,"iv":5.25},{"species":"sweet birch","lat":40,"iv":6.05},{"species":"sweet birch","lat":40.5,"iv":6.45},{"species":"sweet birch","lat":41.2,"iv":6.7},{"species":"sweet birch","lat":41.7,"iv":6.5},{"species":"sweet birch","lat":42.2,"iv":5.6},{"species":"sweet birch","lat":42.7,"iv":4.5},{"species":"sweet birch","lat":43.2,"iv":3.4},{"species":"sweet birch","lat":43.7,"iv":2.5},{"species":"sweet birch","lat":44.5,"iv":1.2},
{"species":"white oak","lat":30,"iv":1.1},{"species":"white oak","lat":31,"iv":1.8},{"species":"white oak","lat":32,"iv":2.6},{"species":"white oak","lat":33,"iv":3.6},{"species":"white oak","lat":34,"iv":4.8},{"species":"white oak","lat":35,"iv":5.9},{"species":"white oak","lat":36,"iv":6.8},{"species":"white oak","lat":37,"iv":7.5},{"species":"white oak","lat":38,"iv":7.85},{"species":"white oak","lat":38.6,"iv":7.9},{"species":"white oak","lat":39.5,"iv":7.8},{"species":"white oak","lat":40.5,"iv":7.4},{"species":"white oak","lat":41.5,"iv":6.7},{"species":"white oak","lat":42.5,"iv":5.9},{"species":"white oak","lat":43.5,"iv":5.0},{"species":"white oak","lat":44.5,"iv":4.0},{"species":"white oak","lat":45.5,"iv":3.1},{"species":"white oak","lat":46.5,"iv":2.2},{"species":"white oak","lat":47.5,"iv":1.6},{"species":"white oak","lat":48.5,"iv":1.2},
{"species":"eastern hemlock","lat":33.5,"iv":1.0},{"species":"eastern hemlock","lat":34.5,"iv":1.5},{"species":"eastern hemlock","lat":35.5,"iv":2.1},{"species":"eastern hemlock","lat":36.5,"iv":2.8},{"species":"eastern hemlock","lat":37.5,"iv":3.5},{"species":"eastern hemlock","lat":38.5,"iv":4.3},{"species":"eastern hemlock","lat":39.5,"iv":5.2},{"species":"eastern hemlock","lat":40.5,"iv":6.1},{"species":"eastern hemlock","lat":41.5,"iv":7.0},{"species":"eastern hemlock","lat":42.5,"iv":7.8},{"species":"eastern hemlock","lat":43.15,"iv":8.15},{"species":"eastern hemlock","lat":43.7,"iv":8.0},{"species":"eastern hemlock","lat":44.2,"iv":7.4},{"species":"eastern hemlock","lat":44.7,"iv":6.5},{"species":"eastern hemlock","lat":45.5,"iv":5.1},{"species":"eastern hemlock","lat":46.3,"iv":3.8},{"species":"eastern hemlock","lat":47,"iv":2.7},
{"species":"sweetgum","lat":27,"iv":2.3},{"species":"sweetgum","lat":28,"iv":4.2},{"species":"sweetgum","lat":29,"iv":6.2},{"species":"sweetgum","lat":30,"iv":8.1},{"species":"sweetgum","lat":31,"iv":9.8},{"species":"sweetgum","lat":32,"iv":10.9},{"species":"sweetgum","lat":33,"iv":11.5},{"species":"sweetgum","lat":33.6,"iv":11.6},{"species":"sweetgum","lat":34.5,"iv":11.5},{"species":"sweetgum","lat":35.5,"iv":11.3},{"species":"sweetgum","lat":36.5,"iv":11.05},{"species":"sweetgum","lat":37.5,"iv":10.8},{"species":"sweetgum","lat":38.5,"iv":10.45},{"species":"sweetgum","lat":39.5,"iv":10.0},{"species":"sweetgum","lat":40.5,"iv":9.5},{"species":"sweetgum","lat":41,"iv":9.2},
{"species":"northern red oak","lat":31,"iv":0.37},{"species":"northern red oak","lat":32,"iv":0.55},{"species":"northern red oak","lat":33,"iv":0.82},{"species":"northern red oak","lat":34,"iv":1.25},{"species":"northern red oak","lat":35,"iv":1.85},{"species":"northern red oak","lat":36,"iv":2.55},{"species":"northern red oak","lat":37,"iv":3.25},{"species":"northern red oak","lat":38,"iv":3.95},{"species":"northern red oak","lat":39,"iv":4.65},{"species":"northern red oak","lat":40,"iv":5.3},{"species":"northern red oak","lat":41,"iv":5.9},{"species":"northern red oak","lat":42,"iv":6.35},{"species":"northern red oak","lat":43,"iv":6.55},{"species":"northern red oak","lat":43.5,"iv":6.5},{"species":"northern red oak","lat":44,"iv":6.3},{"species":"northern red oak","lat":44.5,"iv":6.0},{"species":"northern red oak","lat":45,"iv":5.5},{"species":"northern red oak","lat":45.5,"iv":4.9},{"species":"northern red oak","lat":46,"iv":4.2},{"species":"northern red oak","lat":46.5,"iv":3.5},{"species":"northern red oak","lat":47,"iv":2.7},{"species":"northern red oak","lat":47.5,"iv":2.0},{"species":"northern red oak","lat":48,"iv":1.4},{"species":"northern red oak","lat":48.5,"iv":0.86},
{"species":"sweetbay","lat":25.5,"iv":0.5},{"species":"sweetbay","lat":26,"iv":0.7},{"species":"sweetbay","lat":26.4,"iv":1.3},{"species":"sweetbay","lat":26.7,"iv":4.0},{"species":"sweetbay","lat":27,"iv":8.4},{"species":"sweetbay","lat":27.2,"iv":9.7},{"species":"sweetbay","lat":27.7,"iv":9.3},{"species":"sweetbay","lat":28.5,"iv":8.2},{"species":"sweetbay","lat":29.5,"iv":6.8},{"species":"sweetbay","lat":30.5,"iv":5.5},{"species":"sweetbay","lat":31.5,"iv":4.3},{"species":"sweetbay","lat":32.5,"iv":3.2},{"species":"sweetbay","lat":33.5,"iv":2.4},{"species":"sweetbay","lat":34.5,"iv":1.8},{"species":"sweetbay","lat":35.5,"iv":1.4},{"species":"sweetbay","lat":36.5,"iv":1.1},{"species":"sweetbay","lat":37.5,"iv":0.95},{"species":"sweetbay","lat":38.5,"iv":0.85},{"species":"sweetbay","lat":40,"iv":0.75},
{"species":"bigtooth aspen","lat":35.5,"iv":0.24},{"species":"bigtooth aspen","lat":36.5,"iv":0.35},{"species":"bigtooth aspen","lat":37.5,"iv":0.6},{"species":"bigtooth aspen","lat":38.5,"iv":1.0},{"species":"bigtooth aspen","lat":39.5,"iv":1.6},{"species":"bigtooth aspen","lat":40.5,"iv":2.25},{"species":"bigtooth aspen","lat":41.5,"iv":2.8},{"species":"bigtooth aspen","lat":42.5,"iv":3.3},{"species":"bigtooth aspen","lat":43.5,"iv":3.62},{"species":"bigtooth aspen","lat":44.1,"iv":3.7},{"species":"bigtooth aspen","lat":44.8,"iv":3.65},{"species":"bigtooth aspen","lat":45.5,"iv":3.45},{"species":"bigtooth aspen","lat":46.5,"iv":3.1},{"species":"bigtooth aspen","lat":47.5,"iv":2.6},{"species":"bigtooth aspen","lat":48.5,"iv":1.95},
{"species":"baldcypress","lat":25.5,"iv":5.0},{"species":"baldcypress","lat":26,"iv":9.3},{"species":"baldcypress","lat":26.5,"iv":12.4},{"species":"baldcypress","lat":26.9,"iv":13.3},{"species":"baldcypress","lat":27.5,"iv":12.8},{"species":"baldcypress","lat":28.5,"iv":11.5},{"species":"baldcypress","lat":29.5,"iv":10.1},{"species":"baldcypress","lat":30.5,"iv":8.6},{"species":"baldcypress","lat":31.5,"iv":7.3},{"species":"baldcypress","lat":32.5,"iv":6.2},{"species":"baldcypress","lat":33.5,"iv":5.0},{"species":"baldcypress","lat":34.5,"iv":4.0},{"species":"baldcypress","lat":35.5,"iv":3.1},{"species":"baldcypress","lat":36.5,"iv":2.2},{"species":"baldcypress","lat":37.5,"iv":1.6},{"species":"baldcypress","lat":38.5,"iv":1.2},{"species":"baldcypress","lat":39.5,"iv":0.9}
],
"peak": [
{"species":"loblolly pine","lat":32.9},{"species":"shortleaf pine","lat":35.45},{"species":"red spruce","lat":47.05},{"species":"longleaf pine","lat":26.5},
{"species":"yellow-poplar","lat":37.95},{"species":"sugar maple","lat":41.85},{"species":"slash pine","lat":24.5},{"species":"eastern white pine","lat":43.15},
{"species":"sourwood","lat":36.2},{"species":"american holly","lat":40.35},{"species":"red maple","lat":43.8},{"species":"chestnut oak","lat":39.05},
{"species":"sweet birch","lat":41.2},{"species":"white oak","lat":38.6},{"species":"eastern hemlock","lat":43.15},{"species":"sweetgum","lat":33.6},
{"species":"northern red oak","lat":43.1},{"species":"sweetbay","lat":27.15},{"species":"bigtooth aspen","lat":44.1},{"species":"baldcypress","lat":27.0}
]
},
"concat": [
{"title":"loblolly pine :\u00a0\u00a0V","width":258,"height":76,"resolve":{"axis":{"x":"independent","y":"independent"}},"layer":[
{"data":{"name":"pts"},"transform":[{"filter":{"field":"species","equal":"loblolly pine"}}],"mark":{"type":"circle","size":95,"color":"#999999","opacity":1},"encoding":{"x":{"field":"lat","type":"quantitative","title":"Latitude","scale":{"domain":[27.3,42.7],"nice":false,"zero":false},"axis":{"values":[28,32,36,40],"format":"d","labelOverlap":false}},"y":{"field":"iv","type":"quantitative","title":"IV (%)","scale":{"domain":[-0.5,31],"nice":false,"zero":false},"axis":{"values":[0,10,20,30],"format":"d","labelOverlap":false}}}},
{"data":{"name":"fit"},"transform":[{"filter":{"field":"species","equal":"loblolly pine"}}],"mark":{"type":"line","color":"#000000","strokeWidth":1.8,"interpolate":"monotone"},"encoding":{"x":{"field":"lat","type":"quantitative","axis":{"values":[30,34,38,42],"labels":false,"title":null,"orient":"top","gridWidth":0.6}},"y":{"field":"iv","type":"quantitative","axis":{"values":[5,15,25],"labels":false,"title":null,"orient":"right","gridWidth":0.6}}}},
{"data":{"name":"peak"},"transform":[{"filter":{"field":"species","equal":"loblolly pine"}}],"mark":{"type":"rule","color":"#ff2a1a","strokeDash":[6,4],"strokeWidth":1.8},"encoding":{"x":{"field":"lat","type":"quantitative","axis":null}}}]},
{"title":"shortleaf pine :\u00a0\u00a0V","width":258,"height":76,"resolve":{"axis":{"x":"independent","y":"independent"}},"layer":[
{"data":{"name":"pts"},"transform":[{"filter":{"field":"species","equal":"shortleaf pine"}}],"mark":{"type":"circle","size":95,"color":"#999999","opacity":1},"encoding":{"x":{"field":"lat","type":"quantitative","title":"Latitude","scale":{"domain":[29.5,40.5],"nice":false,"zero":false},"axis":{"values":[30,32.5,35,37.5,40],"format":".1f","labelOverlap":false}},"y":{"field":"iv","type":"quantitative","title":"IV","scale":{"domain":[-0.1,8.5],"nice":false,"zero":false},"axis":{"values":[0,2,4,6,8],"format":"d","labelOverlap":false}}}},
{"data":{"name":"fit"},"transform":[{"filter":{"field":"species","equal":"shortleaf pine"}}],"mark":{"type":"line","color":"#000000","strokeWidth":1.8,"interpolate":"monotone"},"encoding":{"x":{"field":"lat","type":"quantitative","axis":{"values":[31.25,33.75,36.25,38.75],"labels":false,"title":null,"orient":"top","gridWidth":0.6}},"y":{"field":"iv","type":"quantitative","axis":{"values":[1,3,5,7],"labels":false,"title":null,"orient":"right","gridWidth":0.6}}}},
{"data":{"name":"peak"},"transform":[{"filter":{"field":"species","equal":"shortleaf pine"}}],"mark":{"type":"rule","color":"#ff2a1a","strokeDash":[6,4],"strokeWidth":1.8},"encoding":{"x":{"field":"lat","type":"quantitative","axis":null}}}]},
{"title":"red spruce :\u00a0\u00a0II","width":258,"height":76,"resolve":{"axis":{"x":"independent","y":"independent"}},"layer":[
{"data":{"name":"pts"},"transform":[{"filter":{"field":"species","equal":"red spruce"}}],"mark":{"type":"circle","size":95,"color":"#999999","opacity":1},"encoding":{"x":{"field":"lat","type":"quantitative","title":"Latitude","scale":{"domain":[34.4,47.6],"nice":false,"zero":false},"axis":{"values":[35,37.5,40,42.5,45,47.5],"format":".1f","labelOverlap":false}},"y":{"field":"iv","type":"quantitative","title":"IV","scale":{"domain":[-0.3,14.9],"nice":false,"zero":false},"axis":{"values":[0,5,10],"format":"d","labelOverlap":false}}}},
{"data":{"name":"fit"},"transform":[{"filter":{"field":"species","equal":"red spruce"}}],"mark":{"type":"line","color":"#000000","strokeWidth":1.8,"interpolate":"monotone"},"encoding":{"x":{"field":"lat","type":"quantitative","axis":{"values":[36.25,38.75,41.25,43.75,46.25],"labels":false,"title":null,"orient":"top","gridWidth":0.6}},"y":{"field":"iv","type":"quantitative","axis":{"values":[2.5,7.5,12.5],"labels":false,"title":null,"orient":"right","gridWidth":0.6}}}},
{"data":{"name":"peak"},"transform":[{"filter":{"field":"species","equal":"red spruce"}}],"mark":{"type":"rule","color":"#ff2a1a","strokeDash":[6,4],"strokeWidth":1.8},"encoding":{"x":{"field":"lat","type":"quantitative","axis":null}}}]},
{"title":"longleaf pine :\u00a0\u00a0II","width":258,"height":76,"resolve":{"axis":{"x":"independent","y":"independent"}},"layer":[
{"data":{"name":"pts"},"transform":[{"filter":{"field":"species","equal":"longleaf pine"}}],"mark":{"type":"circle","size":95,"color":"#999999","opacity":1},"encoding":{"x":{"field":"lat","type":"quantitative","title":"Latitude","scale":{"domain":[26.0,36.5],"nice":false,"zero":false},"axis":{"values":[28,30,32,34,36],"format":"d","labelOverlap":false}},"y":{"field":"iv","type":"quantitative","title":"IV","scale":{"domain":[1.3,9.9],"nice":false,"zero":false},"axis":{"values":[2.5,5,7.5],"format":".1f","labelOverlap":false}}}},
{"data":{"name":"fit"},"transform":[{"filter":{"field":"species","equal":"longleaf pine"}}],"mark":{"type":"line","color":"#000000","strokeWidth":1.8,"interpolate":"monotone"},"encoding":{"x":{"field":"lat","type":"quantitative","axis":{"values":[27,29,31,33,35],"labels":false,"title":null,"orient":"top","gridWidth":0.6}},"y":{"field":"iv","type":"quantitative","axis":{"values":[3.75,6.25,8.75],"labels":false,"title":null,"orient":"right","gridWidth":0.6}}}},
{"data":{"name":"peak"},"transform":[{"filter":{"field":"species","equal":"longleaf pine"}}],"mark":{"type":"rule","color":"#ff2a1a","strokeDash":[6,4],"strokeWidth":1.8},"encoding":{"x":{"field":"lat","type":"quantitative","axis":null}}}]},
{"title":"yellow-poplar :\u00a0\u00a0V","width":258,"height":76,"resolve":{"axis":{"x":"independent","y":"independent"}},"layer":[
{"data":{"name":"pts"},"transform":[{"filter":{"field":"species","equal":"yellow-poplar"}}],"mark":{"type":"circle","size":95,"color":"#999999","opacity":1},"encoding":{"x":{"field":"lat","type":"quantitative","title":"Latitude","scale":{"domain":[28.8,43.7],"nice":false,"zero":false},"axis":{"values":[32,36,40],"format":"d","labelOverlap":false}},"y":{"field":"iv","type":"quantitative","title":"IV","scale":{"domain":[0.95,11.6],"nice":false,"zero":false},"axis":{"values":[3,6,9],"format":"d","labelOverlap":false}}}},
{"data":{"name":"fit"},"transform":[{"filter":{"field":"species","equal":"yellow-poplar"}}],"mark":{"type":"line","color":"#000000","strokeWidth":1.8,"interpolate":"monotone"},"encoding":{"x":{"field":"lat","type":"quantitative","axis":{"values":[30,34,38,42],"labels":false,"title":null,"orient":"top","gridWidth":0.6}},"y":{"field":"iv","type":"quantitative","axis":{"values":[1.5,4.5,7.5,10.5],"labels":false,"title":null,"orient":"right","gridWidth":0.6}}}},
{"data":{"name":"peak"},"transform":[{"filter":{"field":"species","equal":"yellow-poplar"}}],"mark":{"type":"rule","color":"#ff2a1a","strokeDash":[6,4],"strokeWidth":1.8},"encoding":{"x":{"field":"lat","type":"quantitative","axis":null}}}]},
{"title":"sugar maple :\u00a0\u00a0V","width":258,"height":76,"resolve":{"axis":{"x":"independent","y":"independent"}},"layer":[
{"data":{"name":"pts"},"transform":[{"filter":{"field":"species","equal":"sugar maple"}}],"mark":{"type":"circle","size":95,"color":"#999999","opacity":1},"encoding":{"x":{"field":"lat","type":"quantitative","title":"Latitude","scale":{"domain":[32.25,48.75],"nice":false,"zero":false},"axis":{"values":[36,40,44,48],"format":"d","labelOverlap":false}},"y":{"field":"iv","type":"quantitative","title":"IV","scale":{"domain":[-0.2,12.9],"nice":false,"zero":false},"axis":{"values":[0,2.5,5,7.5,10,12.5],"format":".1f","labelOverlap":false,"labelFontSize":15}}}},
{"data":{"name":"fit"},"transform":[{"filter":{"field":"species","equal":"sugar maple"}}],"mark":{"type":"line","color":"#000000","strokeWidth":1.8,"interpolate":"monotone"},"encoding":{"x":{"field":"lat","type":"quantitative","axis":{"values":[34,38,42,46],"labels":false,"title":null,"orient":"top","gridWidth":0.6}},"y":{"field":"iv","type":"quantitative","axis":{"values":[1.25,3.75,6.25,8.75,11.25],"labels":false,"title":null,"orient":"right","gridWidth":0.6}}}},
{"data":{"name":"peak"},"transform":[{"filter":{"field":"species","equal":"sugar maple"}}],"mark":{"type":"rule","color":"#ff2a1a","strokeDash":[6,4],"strokeWidth":1.8},"encoding":{"x":{"field":"lat","type":"quantitative","axis":null}}}]},
{"title":"slash pine :\u00a0\u00a0II","width":258,"height":76,"resolve":{"axis":{"x":"independent","y":"independent"}},"layer":[
{"data":{"name":"pts"},"transform":[{"filter":{"field":"species","equal":"slash pine"}}],"mark":{"type":"circle","size":95,"color":"#999999","opacity":1},"encoding":{"x":{"field":"lat","type":"quantitative","title":"Latitude","scale":{"domain":[23.95,36.05],"nice":false,"zero":false},"axis":{"values":[24,27,30,33,36],"format":"d","labelOverlap":false}},"y":{"field":"iv","type":"quantitative","title":"IV","scale":{"domain":[-0.5,64.5],"nice":false,"zero":false},"axis":{"values":[0,20,40,60],"format":"d","labelOverlap":false}}}},
{"data":{"name":"fit"},"transform":[{"filter":{"field":"species","equal":"slash pine"}}],"mark":{"type":"line","color":"#000000","strokeWidth":1.8,"interpolate":"monotone"},"encoding":{"x":{"field":"lat","type":"quantitative","axis":{"values":[25.5,28.5,31.5,34.5],"labels":false,"title":null,"orient":"top","gridWidth":0.6}},"y":{"field":"iv","type":"quantitative","axis":{"values":[10,30,50],"labels":false,"title":null,"orient":"right","gridWidth":0.6}}}},
{"data":{"name":"peak"},"transform":[{"filter":{"field":"species","equal":"slash pine"}}],"mark":{"type":"rule","color":"#ff2a1a","strokeDash":[6,4],"strokeWidth":1.8},"encoding":{"x":{"field":"lat","type":"quantitative","axis":null}}}]},
{"title":"eastern white pine :\u00a0\u00a0V","width":258,"height":76,"resolve":{"axis":{"x":"independent","y":"independent"}},"layer":[
{"data":{"name":"pts"},"transform":[{"filter":{"field":"species","equal":"eastern white pine"}}],"mark":{"type":"circle","size":95,"color":"#999999","opacity":1},"encoding":{"x":{"field":"lat","type":"quantitative","title":"Latitude","scale":{"domain":[33.3,49.2],"nice":false,"zero":false},"axis":{"values":[35,40,45],"format":"d","labelOverlap":false}},"y":{"field":"iv","type":"quantitative","title":"IV","scale":{"domain":[-0.25,11.5],"nice":false,"zero":false},"axis":{"values":[0,2.5,5,7.5,10],"format":".1f","labelOverlap":false}}}},
{"data":{"name":"fit"},"transform":[{"filter":{"field":"species","equal":"eastern white pine"}}],"mark":{"type":"line","color":"#000000","strokeWidth":1.8,"interpolate":"monotone"},"encoding":{"x":{"field":"lat","type":"quantitative","axis":{"values":[37.5,42.5,47.5],"labels":false,"title":null,"orient":"top","gridWidth":0.6}},"y":{"field":"iv","type":"quantitative","axis":{"values":[1.25,3.75,6.25,8.75,11.25],"labels":false,"title":null,"orient":"right","gridWidth":0.6}}}},
{"data":{"name":"peak"},"transform":[{"filter":{"field":"species","equal":"eastern white pine"}}],"mark":{"type":"rule","color":"#ff2a1a","strokeDash":[6,4],"strokeWidth":1.8},"encoding":{"x":{"field":"lat","type":"quantitative","axis":null}}}]},
{"title":"sourwood :\u00a0\u00a0IV","width":258,"height":76,"resolve":{"axis":{"x":"independent","y":"independent"}},"layer":[
{"data":{"name":"pts"},"transform":[{"filter":{"field":"species","equal":"sourwood"}}],"mark":{"type":"circle","size":95,"color":"#999999","opacity":1},"encoding":{"x":{"field":"lat","type":"quantitative","title":"Latitude","scale":{"domain":[29.52,39.98],"nice":false,"zero":false},"axis":{"values":[30,32.5,35,37.5],"format":".1f","labelOverlap":false}},"y":{"field":"iv","type":"quantitative","title":"IV","scale":{"domain":[0.38,4.15],"nice":false,"zero":false},"axis":{"values":[1,2,3,4],"format":"d","labelOverlap":false}}}},
{"data":{"name":"fit"},"transform":[{"filter":{"field":"species","equal":"sourwood"}}],"mark":{"type":"line","color":"#000000","strokeWidth":1.8,"interpolate":"monotone"},"encoding":{"x":{"field":"lat","type":"quantitative","axis":{"values":[31.25,33.75,36.25,38.75],"labels":false,"title":null,"orient":"top","gridWidth":0.6}},"y":{"field":"iv","type":"quantitative","axis":{"values":[0.5,1.5,2.5,3.5],"labels":false,"title":null,"orient":"right","gridWidth":0.6}}}},
{"data":{"name":"peak"},"transform":[{"filter":{"field":"species","equal":"sourwood"}}],"mark":{"type":"rule","color":"#ff2a1a","strokeDash":[6,4],"strokeWidth":1.8},"encoding":{"x":{"field":"lat","type":"quantitative","axis":null}}}]},
{"title":"american holly :\u00a0\u00a0V","width":258,"height":76,"resolve":{"axis":{"x":"independent","y":"independent"}},"layer":[
{"data":{"name":"pts"},"transform":[{"filter":{"field":"species","equal":"american holly"}}],"mark":{"type":"circle","size":95,"color":"#999999","opacity":1},"encoding":{"x":{"field":"lat","type":"quantitative","title":"Latitude","scale":{"domain":[27.8,42.7],"nice":false,"zero":false},"axis":{"values":[28,32,36,40],"format":"d","labelOverlap":false}},"y":{"field":"iv","type":"quantitative","title":"IV","scale":{"domain":[-0.45,10.5],"nice":false,"zero":false},"axis":{"values":[0,2.5,5,7.5,10],"format":".1f","labelOverlap":false}}}},
{"data":{"name":"fit"},"transform":[{"filter":{"field":"species","equal":"american holly"}}],"mark":{"type":"line","color":"#000000","strokeWidth":1.8,"interpolate":"monotone"},"encoding":{"x":{"field":"lat","type":"quantitative","axis":{"values":[30,34,38,42],"labels":false,"title":null,"orient":"top","gridWidth":0.6}},"y":{"field":"iv","type":"quantitative","axis":{"values":[1.25,3.75,6.25,8.75],"labels":false,"title":null,"orient":"right","gridWidth":0.6}}}},
{"data":{"name":"peak"},"transform":[{"filter":{"field":"species","equal":"american holly"}}],"mark":{"type":"rule","color":"#ff2a1a","strokeDash":[6,4],"strokeWidth":1.8},"encoding":{"x":{"field":"lat","type":"quantitative","axis":null}}}]},
{"title":"red maple :\u00a0\u00a0V","width":258,"height":76,"resolve":{"axis":{"x":"independent","y":"independent"}},"layer":[
{"data":{"name":"pts"},"transform":[{"filter":{"field":"species","equal":"red maple"}}],"mark":{"type":"circle","size":95,"color":"#999999","opacity":1},"encoding":{"x":{"field":"lat","type":"quantitative","title":"Latitude","scale":{"domain":[24.35,49.65],"nice":false,"zero":false},"axis":{"values":[25,30,35,40,45],"format":"d","labelOverlap":false}},"y":{"field":"iv","type":"quantitative","title":"IV","scale":{"domain":[0.7,22.3],"nice":false,"zero":false},"axis":{"values":[5,10,15,20],"format":"d","labelOverlap":false}}}},
{"data":{"name":"fit"},"transform":[{"filter":{"field":"species","equal":"red maple"}}],"mark":{"type":"line","color":"#000000","strokeWidth":1.8,"interpolate":"monotone"},"encoding":{"x":{"field":"lat","type":"quantitative","axis":{"values":[27.5,32.5,37.5,42.5,47.5],"labels":false,"title":null,"orient":"top","gridWidth":0.6}},"y":{"field":"iv","type":"quantitative","axis":{"values":[2.5,7.5,12.5,17.5],"labels":false,"title":null,"orient":"right","gridWidth":0.6}}}},
{"data":{"name":"peak"},"transform":[{"filter":{"field":"species","equal":"red maple"}}],"mark":{"type":"rule","color":"#ff2a1a","strokeDash":[6,4],"strokeWidth":1.8},"encoding":{"x":{"field":"lat","type":"quantitative","axis":null}}}]},
{"title":"chestnut oak :\u00a0\u00a0V","width":258,"height":76,"resolve":{"axis":{"x":"independent","y":"independent"}},"layer":[
{"data":{"name":"pts"},"transform":[{"filter":{"field":"species","equal":"chestnut oak"}}],"mark":{"type":"circle","size":95,"color":"#999999","opacity":1},"encoding":{"x":{"field":"lat","type":"quantitative","title":"Latitude","scale":{"domain":[30.9,44.6],"nice":false,"zero":false},"axis":{"values":[35,40],"format":"d","labelOverlap":false}},"y":{"field":"iv","type":"quantitative","title":"IV","scale":{"domain":[0.1,10.5],"nice":false,"zero":false},"axis":{"values":[2.5,5,7.5,10],"format":".1f","labelOverlap":false}}}},
{"data":{"name":"fit"},"transform":[{"filter":{"field":"species","equal":"chestnut oak"}}],"mark":{"type":"line","color":"#000000","strokeWidth":1.8,"interpolate":"monotone"},"encoding":{"x":{"field":"lat","type":"quantitative","axis":{"values":[32.5,37.5,42.5],"labels":false,"title":null,"orient":"top","gridWidth":0.6}},"y":{"field":"iv","type":"quantitative","axis":{"values":[1.25,3.75,6.25,8.75],"labels":false,"title":null,"orient":"right","gridWidth":0.6}}}},
{"data":{"name":"peak"},"transform":[{"filter":{"field":"species","equal":"chestnut oak"}}],"mark":{"type":"rule","color":"#ff2a1a","strokeDash":[6,4],"strokeWidth":1.8},"encoding":{"x":{"field":"lat","type":"quantitative","axis":null}}}]},
{"title":"sweet birch :\u00a0\u00a0V","width":258,"height":76,"resolve":{"axis":{"x":"independent","y":"independent"}},"layer":[
{"data":{"name":"pts"},"transform":[{"filter":{"field":"species","equal":"sweet birch"}}],"mark":{"type":"circle","size":95,"color":"#999999","opacity":1},"encoding":{"x":{"field":"lat","type":"quantitative","title":"Latitude","scale":{"domain":[33.475,45.025],"nice":false,"zero":false},"axis":{"values":[36,39,42,45],"format":"d","labelOverlap":false}},"y":{"field":"iv","type":"quantitative","title":"IV","scale":{"domain":[-0.1,9.55],"nice":false,"zero":false},"axis":{"values":[0,2.5,5,7.5],"format":".1f","labelOverlap":false}}}},
{"data":{"name":"fit"},"transform":[{"filter":{"field":"species","equal":"sweet birch"}}],"mark":{"type":"line","color":"#000000","strokeWidth":1.8,"interpolate":"monotone"},"encoding":{"x":{"field":"lat","type":"quantitative","axis":{"values":[34.5,37.5,40.5,43.5],"labels":false,"title":null,"orient":"top","gridWidth":0.6}},"y":{"field":"iv","type":"quantitative","axis":{"values":[1.25,3.75,6.25,8.75],"labels":false,"title":null,"orient":"right","gridWidth":0.6}}}},
{"data":{"name":"peak"},"transform":[{"filter":{"field":"species","equal":"sweet birch"}}],"mark":{"type":"rule","color":"#ff2a1a","strokeDash":[6,4],"strokeWidth":1.8},"encoding":{"x":{"field":"lat","type":"quantitative","axis":null}}}]},
{"title":"white oak :\u00a0\u00a0IV","width":258,"height":76,"resolve":{"axis":{"x":"independent","y":"independent"}},"layer":[
{"data":{"name":"pts"},"transform":[{"filter":{"field":"species","equal":"white oak"}}],"mark":{"type":"circle","size":95,"color":"#999999","opacity":1},"encoding":{"x":{"field":"lat","type":"quantitative","title":"Latitude","scale":{"domain":[29.1,49.4],"nice":false,"zero":false},"axis":{"values":[30,35,40,45],"format":"d","labelOverlap":false}},"y":{"field":"iv","type":"quantitative","title":"IV","scale":{"domain":[-0.15,9.45],"nice":false,"zero":false},"axis":{"values":[0,2.5,5,7.5],"format":".1f","labelOverlap":false}}}},
{"data":{"name":"fit"},"transform":[{"filter":{"field":"species","equal":"white oak"}}],"mark":{"type":"line","color":"#000000","strokeWidth":1.8,"interpolate":"monotone"},"encoding":{"x":{"field":"lat","type":"quantitative","axis":{"values":[32.5,37.5,42.5,47.5],"labels":false,"title":null,"orient":"top","gridWidth":0.6}},"y":{"field":"iv","type":"quantitative","axis":{"values":[1.25,3.75,6.25,8.75],"labels":false,"title":null,"orient":"right","gridWidth":0.6}}}},
{"data":{"name":"peak"},"transform":[{"filter":{"field":"species","equal":"white oak"}}],"mark":{"type":"rule","color":"#ff2a1a","strokeDash":[6,4],"strokeWidth":1.8},"encoding":{"x":{"field":"lat","type":"quantitative","axis":null}}}]},
{"title":"eastern hemlock :\u00a0\u00a0V","width":258,"height":76,"resolve":{"axis":{"x":"independent","y":"independent"}},"layer":[
{"data":{"name":"pts"},"transform":[{"filter":{"field":"species","equal":"eastern hemlock"}}],"mark":{"type":"circle","size":95,"color":"#999999","opacity":1},"encoding":{"x":{"field":"lat","type":"quantitative","title":"Latitude","scale":{"domain":[32.8,47.7],"nice":false,"zero":false},"axis":{"values":[36,40,44],"format":"d","labelOverlap":false}},"y":{"field":"iv","type":"quantitative","title":"IV","scale":{"domain":[-0.25,11.4],"nice":false,"zero":false},"axis":{"values":[0,3,6,9],"format":"d","labelOverlap":false}}}},
{"data":{"name":"fit"},"transform":[{"filter":{"field":"species","equal":"eastern hemlock"}}],"mark":{"type":"line","color":"#000000","strokeWidth":1.8,"interpolate":"monotone"},"encoding":{"x":{"field":"lat","type":"quantitative","axis":{"values":[34,38,42,46],"labels":false,"title":null,"orient":"top","gridWidth":0.6}},"y":{"field":"iv","type":"quantitative","axis":{"values":[1.5,4.5,7.5,10.5],"labels":false,"title":null,"orient":"right","gridWidth":0.6}}}},
{"data":{"name":"peak"},"transform":[{"filter":{"field":"species","equal":"eastern hemlock"}}],"mark":{"type":"rule","color":"#ff2a1a","strokeDash":[6,4],"strokeWidth":1.8},"encoding":{"x":{"field":"lat","type":"quantitative","axis":null}}}]},
{"title":"sweetgum :\u00a0\u00a0V","width":258,"height":76,"resolve":{"axis":{"x":"independent","y":"independent"}},"layer":[
{"data":{"name":"pts"},"transform":[{"filter":{"field":"species","equal":"sweetgum"}}],"mark":{"type":"circle","size":95,"color":"#999999","opacity":1},"encoding":{"x":{"field":"lat","type":"quantitative","title":"Latitude","scale":{"domain":[26.3,41.7],"nice":false,"zero":false},"axis":{"values":[30,35,40],"format":"d","labelOverlap":false}},"y":{"field":"iv","type":"quantitative","title":"IV","scale":{"domain":[1.7,16.6],"nice":false,"zero":false},"axis":{"values":[4,8,12,16],"format":"d","labelOverlap":false}}}},
{"data":{"name":"fit"},"transform":[{"filter":{"field":"species","equal":"sweetgum"}}],"mark":{"type":"line","color":"#000000","strokeWidth":1.8,"interpolate":"monotone"},"encoding":{"x":{"field":"lat","type":"quantitative","axis":{"values":[27.5,32.5,37.5],"labels":false,"title":null,"orient":"top","gridWidth":0.6}},"y":{"field":"iv","type":"quantitative","axis":{"values":[2,6,10,14],"labels":false,"title":null,"orient":"right","gridWidth":0.6}}}},
{"data":{"name":"peak"},"transform":[{"filter":{"field":"species","equal":"sweetgum"}}],"mark":{"type":"rule","color":"#ff2a1a","strokeDash":[6,4],"strokeWidth":1.8},"encoding":{"x":{"field":"lat","type":"quantitative","axis":null}}}]},
{"title":"northern red oak :\u00a0\u00a0V","width":258,"height":76,"resolve":{"axis":{"x":"independent","y":"independent"}},"layer":[
{"data":{"name":"pts"},"transform":[{"filter":{"field":"species","equal":"northern red oak"}}],"mark":{"type":"circle","size":95,"color":"#999999","opacity":1},"encoding":{"x":{"field":"lat","type":"quantitative","title":"Latitude","scale":{"domain":[30.1,49.4],"nice":false,"zero":false},"axis":{"values":[35,40,45],"format":"d","labelOverlap":false}},"y":{"field":"iv","type":"quantitative","title":"IV","scale":{"domain":[-0.15,7.65],"nice":false,"zero":false},"axis":{"values":[0,2,4,6],"format":"d","labelOverlap":false}}}},
{"data":{"name":"fit"},"transform":[{"filter":{"field":"species","equal":"northern red oak"}}],"mark":{"type":"line","color":"#000000","strokeWidth":1.8,"interpolate":"monotone"},"encoding":{"x":{"field":"lat","type":"quantitative","axis":{"values":[32.5,37.5,42.5,47.5],"labels":false,"title":null,"orient":"top","gridWidth":0.6}},"y":{"field":"iv","type":"quantitative","axis":{"values":[1,3,5,7],"labels":false,"title":null,"orient":"right","gridWidth":0.6}}}},
{"data":{"name":"peak"},"transform":[{"filter":{"field":"species","equal":"northern red oak"}}],"mark":{"type":"rule","color":"#ff2a1a","strokeDash":[6,4],"strokeWidth":1.8},"encoding":{"x":{"field":"lat","type":"quantitative","axis":null}}}]},
{"title":"sweetbay :\u00a0\u00a0V","width":258,"height":76,"resolve":{"axis":{"x":"independent","y":"independent"}},"layer":[
{"data":{"name":"pts"},"transform":[{"filter":{"field":"species","equal":"sweetbay"}}],"mark":{"type":"circle","size":95,"color":"#999999","opacity":1},"encoding":{"x":{"field":"lat","type":"quantitative","title":"Latitude","scale":{"domain":[24.8,40.7],"nice":false,"zero":false},"axis":{"values":[25,30,35,40],"format":"d","labelOverlap":false}},"y":{"field":"iv","type":"quantitative","title":"IV","scale":{"domain":[-0.2,14.9],"nice":false,"zero":false},"axis":{"values":[0,5,10],"format":"d","labelOverlap":false}}}},
{"data":{"name":"fit"},"transform":[{"filter":{"field":"species","equal":"sweetbay"}}],"mark":{"type":"line","color":"#000000","strokeWidth":1.8,"interpolate":"monotone"},"encoding":{"x":{"field":"lat","type":"quantitative","axis":{"values":[27.5,32.5,37.5],"labels":false,"title":null,"orient":"top","gridWidth":0.6}},"y":{"field":"iv","type":"quantitative","axis":{"values":[2.5,7.5,12.5],"labels":false,"title":null,"orient":"right","gridWidth":0.6}}}},
{"data":{"name":"peak"},"transform":[{"filter":{"field":"species","equal":"sweetbay"}}],"mark":{"type":"rule","color":"#ff2a1a","strokeDash":[6,4],"strokeWidth":1.8},"encoding":{"x":{"field":"lat","type":"quantitative","axis":null}}}]},
{"title":"bigtooth aspen :\u00a0\u00a0IV","width":258,"height":76,"resolve":{"axis":{"x":"independent","y":"independent"}},"layer":[
{"data":{"name":"pts"},"transform":[{"filter":{"field":"species","equal":"bigtooth aspen"}}],"mark":{"type":"circle","size":95,"color":"#999999","opacity":1},"encoding":{"x":{"field":"lat","type":"quantitative","title":"Latitude","scale":{"domain":[34.85,49.15],"nice":false,"zero":false},"axis":{"values":[35,40,45],"format":"d","labelOverlap":false}},"y":{"field":"iv","type":"quantitative","title":"IV","scale":{"domain":[-0.05,4.6],"nice":false,"zero":false},"axis":{"values":[0,1,2,3,4],"format":"d","labelOverlap":false}}}},
{"data":{"name":"fit"},"transform":[{"filter":{"field":"species","equal":"bigtooth aspen"}}],"mark":{"type":"line","color":"#000000","strokeWidth":1.8,"interpolate":"monotone"},"encoding":{"x":{"field":"lat","type":"quantitative","axis":{"values":[37.5,42.5,47.5],"labels":false,"title":null,"orient":"top","gridWidth":0.6}},"y":{"field":"iv","type":"quantitative","axis":{"values":[0.5,1.5,2.5,3.5,4.5],"labels":false,"title":null,"orient":"right","gridWidth":0.6}}}},
{"data":{"name":"peak"},"transform":[{"filter":{"field":"species","equal":"bigtooth aspen"}}],"mark":{"type":"rule","color":"#ff2a1a","strokeDash":[6,4],"strokeWidth":1.8},"encoding":{"x":{"field":"lat","type":"quantitative","axis":null}}}]},
{"title":"baldcypress :\u00a0\u00a0V","width":258,"height":76,"resolve":{"axis":{"x":"independent","y":"independent"}},"layer":[
{"data":{"name":"pts"},"transform":[{"filter":{"field":"species","equal":"baldcypress"}}],"mark":{"type":"circle","size":95,"color":"#999999","opacity":1},"encoding":{"x":{"field":"lat","type":"quantitative","title":"Latitude","scale":{"domain":[24.8,40.2],"nice":false,"zero":false},"axis":{"values":[25,30,35,40],"format":"d","labelOverlap":false}},"y":{"field":"iv","type":"quantitative","title":"IV","scale":{"domain":[-0.6,18.2],"nice":false,"zero":false},"axis":{"values":[0,5,10,15],"format":"d","labelOverlap":false}}}},
{"data":{"name":"fit"},"transform":[{"filter":{"field":"species","equal":"baldcypress"}}],"mark":{"type":"line","color":"#000000","strokeWidth":1.8,"interpolate":"monotone"},"encoding":{"x":{"field":"lat","type":"quantitative","axis":{"values":[27.5,32.5,37.5],"labels":false,"title":null,"orient":"top","gridWidth":0.6}},"y":{"field":"iv","type":"quantitative","axis":{"values":[2.5,7.5,12.5,17.5],"labels":false,"title":null,"orient":"right","gridWidth":0.6}}}},
{"data":{"name":"peak"},"transform":[{"filter":{"field":"species","equal":"baldcypress"}}],"mark":{"type":"rule","color":"#ff2a1a","strokeDash":[6,4],"strokeWidth":1.8},"encoding":{"x":{"field":"lat","type":"quantitative","axis":null}}}]}
],
"config": {
"view": {"stroke": null},
"font": "Liberation Sans",
"axis": {"domain": false, "ticks": false, "labelColor": "#4d4d4d", "labelFontSize": 16, "labelFont": "Liberation Sans", "titleFont": "Liberation Sans", "titleFontSize": 21, "titleFontWeight": "normal", "titleColor": "#000000", "gridColor": "#ebebeb", "gridWidth": 1.2, "labelPadding": 4, "titlePadding": 4, "labelOverlap": false, "labelFlush": false},
"axisX": {"labelPadding": 6},
"title": {"fontSize": 25, "fontWeight": "normal", "anchor": "start", "frame": "group", "font": "Liberation Sans", "color": "#000000", "offset": 6}
}
}
